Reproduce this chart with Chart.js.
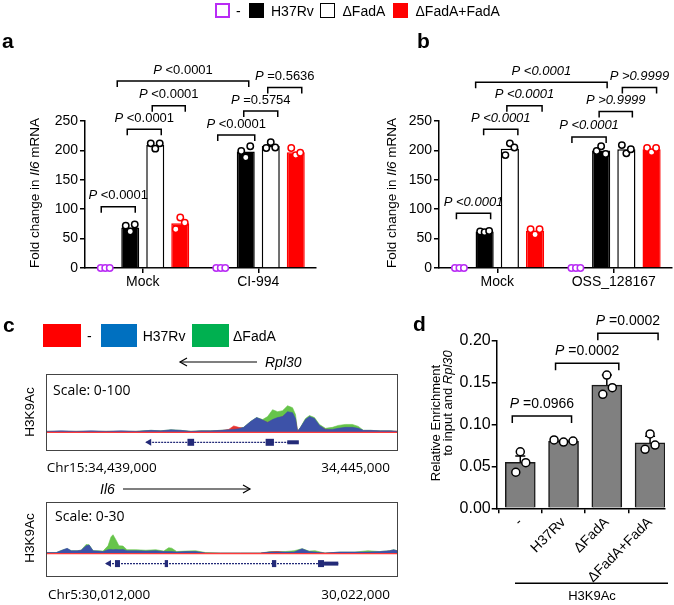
<!DOCTYPE html>
<html><head><meta charset="utf-8">
<script src="https://cdn.jsdelivr.net/npm/chart.js@4.4.1/dist/chart.umd.min.js"></script>
<style>
html,body{margin:0;padding:0;background:#fff;}
body{width:674px;height:605px;position:relative;overflow:hidden;font-family:'Liberation Sans',Arial,sans-serif;color:#000;}
.t{position:absolute;white-space:nowrap;line-height:1;}
.rot{position:absolute;white-space:nowrap;line-height:1;transform:translate(-50%,-50%) rotate(-90deg);}
.box{position:absolute;box-sizing:border-box;}
.os{font-family:'Open Sans',sans-serif;}
canvas{position:absolute;}
.trk{position:absolute;border:1px solid #444;}
</style></head><body>

<canvas id="ca" width="337" height="300" style="left:0;top:0"></canvas>
<canvas id="cb" width="337" height="300" style="left:337px;top:0"></canvas>
<canvas id="cd" width="274" height="305" style="left:400px;top:300px"></canvas>
<div class="trk" style="left:45.7px;top:374px;width:350px;height:75px;"><canvas id="t1" width="350" height="75" style="left:0;top:0"></canvas></div>
<div class="trk" style="left:45.7px;top:501.7px;width:350px;height:73px;"><canvas id="t2" width="350" height="73" style="left:0;top:0"></canvas></div>

<svg width="674" height="605" style="position:absolute;left:0;top:0">
  <path d="M180 362 H257" stroke="#000" stroke-width="1.2" fill="none"/>
  <path d="M187 358 L180 362 L187 366" stroke="#000" stroke-width="1.2" fill="none"/>
  <path d="M123 489 H250" stroke="#000" stroke-width="1.2" fill="none"/>
  <path d="M243 485 L250 489 L243 493" stroke="#000" stroke-width="1.2" fill="none"/>
  <path d="M515 583.3 H668" stroke="#000" stroke-width="1.5" fill="none"/>
</svg>

<!-- top legend -->
<div class="box" style="left:215px;top:3px;width:15px;height:15px;border:2px solid #b92cf5;background:#fff"></div>
<div class="t" style="left:236px;top:3.5px;font-size:14px">-</div>
<div class="box" style="left:249px;top:3px;width:15px;height:15px;background:#000"></div>
<div class="t" style="left:271px;top:3.5px;font-size:14px">H37Rv</div>
<div class="box" style="left:320px;top:3px;width:15px;height:15px;border:1.5px solid #000;background:#fff"></div>
<div class="t" style="left:342.5px;top:3.5px;font-size:14px">ΔFadA</div>
<div class="box" style="left:393px;top:3px;width:15px;height:15px;background:#ff0000"></div>
<div class="t" style="left:415.5px;top:3.5px;font-size:14px">ΔFadA+FadA</div>

<!-- panel letters -->
<div class="t" style="left:2px;top:30px;font-size:21px;font-weight:bold">a</div>
<div class="t" style="left:417px;top:30px;font-size:21px;font-weight:bold">b</div>
<div class="t" style="left:3px;top:314px;font-size:21px;font-weight:bold">c</div>
<div class="t" style="left:413px;top:313px;font-size:21px;font-weight:bold">d</div>

<!-- axis titles -->
<div class="rot" style="left:35px;top:193px;font-size:13.5px">Fold change in <i>Il6</i> mRNA</div>
<div class="rot" style="left:391.7px;top:193px;font-size:13.5px">Fold change in <i>Il6</i> mRNA</div>
<div class="rot" style="left:434.7px;top:422.5px;font-size:13px">Relative Enrichment</div>
<div class="rot" style="left:446.7px;top:403.3px;font-size:13px">to input and <i>Rpl30</i></div>
<div class="t" style="left:592px;top:589px;font-size:13px;transform:translateX(-50%)">H3K9Ac</div>

<!-- panel c texts -->
<div class="box" style="left:43px;top:324px;width:38px;height:23px;background:#ff0000"></div>
<div class="t" style="left:87px;top:328.5px;font-size:14px">-</div>
<div class="box" style="left:100.7px;top:324px;width:36px;height:23px;background:#0070c0"></div>
<div class="t" style="left:142.7px;top:328.5px;font-size:14px">H37Rv</div>
<div class="box" style="left:191.7px;top:324px;width:37.6px;height:23px;background:#00b050"></div>
<div class="t" style="left:233px;top:328.5px;font-size:14px">ΔFadA</div>
<div class="t" style="left:265px;top:355px;font-size:14px;font-style:italic">Rpl30</div>
<div class="t os" style="left:53px;top:383px;font-size:14px">Scale: 0-100</div>
<div class="rot" style="left:30px;top:412px;font-size:13.5px">H3K9Ac</div>
<div class="t os" style="left:46.7px;top:461px;font-size:13.5px">Chr15:34,439,000</div>
<div class="t os" style="right:284px;top:461px;font-size:13.5px">34,445,000</div>
<div class="t" style="left:100px;top:482px;font-size:14px;font-style:italic">Il6</div>
<div class="t os" style="left:55px;top:509px;font-size:14px">Scale: 0-30</div>
<div class="rot" style="left:30px;top:538px;font-size:13.5px">H3K9Ac</div>
<div class="t os" style="left:48px;top:588px;font-size:13.5px">Chr5:30,012,000</div>
<div class="t os" style="right:284px;top:588px;font-size:13.5px">30,022,000</div>

<script>
// ---------- data ----------
const strains = ['-', 'H37Rv', 'ΔFadA', 'ΔFadA+FadA'];
const yTicksAB = [0, 50, 100, 150, 200, 250];

// panel a
const groupsA = ['Mock', 'CI-994'];
const aNone = [0, 0];
const aH37Rv = [69, 198];
const aDFadA = [209, 207.5];
const aComp = [76, 197];
const aNonePts = [[0, 0, 0], [0, 0, 0]];
const aH37RvPts = [[72, 62, 74], [199, 188, 207]];
const aDFadAPts = [[212, 203, 212], [204, 214, 205]];
const aCompPts = [[66, 86, 77], [204, 192, 196]];
// [group1, series1, group2, series2, height, label, nudge1, nudge2]
const aBrackets = [
  [0, 0, 0, 1, 104, 'P <0.0001', -4, 5],
  [0, 1, 0, 2, 236, 'P <0.0001', -3, 6],
  [0, 2, 0, 3, 276, 'P <0.0001', -3, 5],
  [0, 1, 1, 1, 318, 'P <0.0001', -13, 3],
  [1, 0, 1, 1, 226, 'P <0.0001', -3, 9],
  [1, 1, 1, 2, 267, 'P =0.5754', -2, 7],
  [1, 2, 1, 3, 307, 'P =0.5636', -3, 6]
];

// panel b
const groupsB = ['Mock', 'OSS_128167'];
const bNone = [0, 0];
const bH37Rv = [62, 200];
const bDFadA = [203, 202];
const bComp = [63, 202];
const bNonePts = [[0, 0, 0], [0, 0, 0]];
const bH37RvPts = [[62, 61, 63], [199, 207, 194]];
const bDFadAPts = [[192, 212, 205], [209, 195, 202]];
const bCompPts = [[66, 57, 66], [204, 197, 204]];
const bBrackets = [
  [0, 0, 0, 1, 93, 'P <0.0001', -3, 6],
  [0, 1, 0, 2, 236, 'P <0.0001', -1, 8],
  [0, 2, 0, 3, 276, 'P <0.0001', -3, 7],
  [0, 1, 1, 1, 316, 'P <0.0001', -9, 6],
  [1, 0, 1, 1, 223, 'P <0.0001', -4, 5],
  [1, 1, 1, 2, 266, 'P >0.9999', -2, 6],
  [1, 2, 1, 3, 307, 'P >0.9999', -4, 5]
];

// panel c tracks (genomic position, signal heights)
const t1Range = [34439000, 34445000];
const t1Pos = [34439000,34439244,34439500,34439757,34440013,34440270,34440526,34440782,34440953,34441124,34441295,34441466,34441637,34441808,34441979,34442115,34442201,34442286,34442372,34442491,34442594,34442697,34442782,34442867,34442953,34443038,34443124,34443209,34443260,34443295,34443346,34443431,34443500,34443585,34443671,34443773,34443893,34443995,34444115,34444235,34444337,34444423,34444542,34444713,34444884,34445000];
const t1Blue = [1.7,2.6,1.7,2.6,1.7,2.6,1.7,3.4,2.6,4.3,3.4,1.7,2.6,2.6,3.4,4.3,5.1,6,8.6,18.9,25.7,21.4,17.2,22.3,25.7,27.4,36,34.3,24,1.7,8.6,22.3,27.4,24,12,5.1,5.1,6.9,8.6,8.6,6.9,3.4,3.4,2.6,2.6,1.7];
const t1Green = [1.7,1.7,1.7,1.7,1.7,1.7,1.7,3.4,2.6,4.3,3.4,1.7,2.6,2.6,3.4,4.3,5.1,6.9,8.6,18.9,25.7,22.3,27.4,39.4,36,37.7,46.3,42.9,30.9,1.7,8.6,24,29.2,25.7,13.7,6.9,8.6,12,13.7,13.7,10.3,3.4,3.4,2.6,2.6,1.7];
const t1Red = [0.9,0.9,0.9,0.9,0.9,0.9,0.9,1.7,1.7,2.6,1.7,0.9,1.7,1.7,2.6,5.1,11.1,8.6,6.9,15.4,22.3,20.6,17.2,20.6,24,27.4,32.6,30.9,20.6,1.7,6.9,18.9,24,20.6,10.3,5.1,3.4,5.1,6.9,6.9,5.1,2.6,2.6,1.7,1.7,1.7];
const t1Gene = [34440700, 34443317];
const t1Exons = [[34441408, 34441522], [34442748, 34442890]];
const t1Utr = [[34443119, 34443317]];

const t2Range = [30012000, 30022000];
const t2Pos = [30012000,30012264,30012464,30012577,30012691,30012862,30012975,30013118,30013203,30013317,30013459,30013601,30013743,30013829,30013886,30013971,30014056,30014170,30014284,30014540,30014824,30015108,30015336,30015478,30015564,30015706,30015962,30016246,30016531,30016957,30017526,30018095,30018379,30018578,30018806,30019062,30019289,30019488,30019659,30019943,30020370,30020797,30021166,30021507,30021792,30021906,30022000];
const t2Blue = [0.6,0.6,2.3,3.1,1.7,1.7,2.0,4.6,5.1,1.7,1.5,1.2,2.3,2.5,2.3,2.5,2.3,2.5,1.7,1.7,1.5,1.7,1.2,1.2,1.2,0.9,1.2,1.2,0.3,0.3,0.3,0.3,0.9,0.9,0.9,0.9,2.9,1.2,0.9,0.3,0.9,0.9,0.9,1.2,1.7,2.3,1.7];
const t2Green = [0.6,0.6,2.3,2.9,1.7,1.7,2.0,5.4,5.2,1.7,1.7,1.5,4.6,9.9,11.2,8.1,4.6,4.5,2.3,2.3,2.0,2.3,1.5,3.5,3.2,1.2,1.5,1.7,0.6,0.3,0.3,0.3,1.2,1.2,1.2,1.7,2.9,1.5,1.7,0.3,0.9,0.9,1.7,1.2,1.7,2.3,1.7];
const t2Red = [0.3,0.3,0.6,0.9,0.6,1.2,1.7,2.3,1.7,0.9,0.9,0.6,1.2,1.2,1.2,1.5,1.2,1.2,0.9,0.9,0.6,0.9,0.6,0.6,0.6,0.6,0.6,0.6,0.3,0.3,0.3,0.3,0.9,1.2,0.6,0.6,1.2,0.6,0.6,0.3,0.6,0.6,0.6,0.6,1.5,1.7,1.7];
const t2Gene = [30013686, 30020322];
const t2Exons = [[30013942, 30014085], [30015364, 30015458], [30018427, 30018550], [30019744, 30019915]];
const t2Utr = [[30019915, 30020322]];

// panel d
const dLabels = ['-', 'H37Rv', 'ΔFadA', 'ΔFadA+FadA'];
const dMean = [0.055, 0.080, 0.147, 0.078];
const dSD = [0.0075, 0.001, 0.012, 0.008];
const dPts = [[0.043, 0.0675, 0.0544], [0.0816, 0.079, 0.0803], [0.136, 0.159, 0.144], [0.0704, 0.0887, 0.0755]];
const dTicks = [0, 0.05, 0.10, 0.15, 0.20];
const dBrackets = [
  [0, 1, 0.110, 'P =0.0966', -8, 8],
  [1, 2, 0.173, 'P =0.0002', -8, 12],
  [2, 3, 0.209, 'P =0.0002', -9, 8]
];

// ---------- drawing ----------
const FAM = "'Liberation Sans', Arial, sans-serif";
Chart.defaults.font.family = FAM;
Chart.defaults.color = '#000';
Chart.defaults.animation = false;
Chart.defaults.plugins.legend.display = false;
Chart.defaults.plugins.tooltip.enabled = false;
const PURPLE = '#b92cf5', RED = '#ff0000';

function pText(ctx, cx, cy, label, allItalic, size) {
  const p = label.slice(0, 1), rest = label.slice(1);
  const fI = `italic ${size}px ${FAM}`, fR = `${allItalic ? 'italic ' : ''}${size}px ${FAM}`;
  ctx.save();
  ctx.textBaseline = 'middle'; ctx.textAlign = 'left'; ctx.fillStyle = '#000';
  ctx.font = fI; const w1 = ctx.measureText(p).width;
  ctx.font = fR; const w2 = ctx.measureText(rest).width;
  const x = cx - (w1 + w2) / 2;
  ctx.font = fI; ctx.fillText(p, x, cy);
  ctx.font = fR; ctx.fillText(rest, x + w1, cy);
  ctx.restore();
}
function bracket(ctx, x1, x2, y, leg) {
  ctx.save(); ctx.strokeStyle = '#000'; ctx.lineWidth = 1.5;
  ctx.beginPath(); ctx.moveTo(x1, y + leg); ctx.lineTo(x1, y); ctx.lineTo(x2, y); ctx.lineTo(x2, y + leg); ctx.stroke();
  ctx.restore();
}
function dot(ctx, x, y, r, col) {
  ctx.beginPath(); ctx.arc(x, y, r, 0, Math.PI * 2);
  ctx.fillStyle = '#fff'; ctx.fill(); ctx.lineWidth = 1.5; ctx.strokeStyle = col; ctx.stroke();
}

function axisStyle(extra) {
  return Object.assign({
    grid: { display: true, drawOnChartArea: false, tickLength: 5, color: '#000', lineWidth: 1.5 },
    border: { display: true, color: '#000', width: 1.5 }
  }, extra);
}

function grouped(id, groups, means, pts, brackets, allItalic, padL, padR) {
  const jit = [-4.5, 0, 4.5];
  const strokeCols = [PURPLE, '#000', '#000', RED];
  new Chart(document.getElementById(id), {
    type: 'bar',
    data: {
      labels: groups,
      datasets: [
        { label: strains[0], data: means[0], backgroundColor: '#fff', borderWidth: 0 },
        { label: strains[1], data: means[1], backgroundColor: '#000', borderColor: '#000', borderWidth: 1.5 },
        { label: strains[2], data: means[2], backgroundColor: '#fff', borderColor: '#000', borderWidth: 1.5 },
        { label: strains[3], data: means[3], backgroundColor: RED, borderColor: RED, borderWidth: 1.5 }
      ]
    },
    options: {
      responsive: false,
      layout: { padding: { top: 121, left: padL, right: padR, bottom: 0 } },
      datasets: { bar: { categoryPercentage: 0.866, barPercentage: 0.72 } },
      scales: {
        x: axisStyle({
          grid: { display: true, drawOnChartArea: false, offset: false, tickLength: 5, color: '#000', lineWidth: 1.5 },
          ticks: { font: { size: 14 }, padding: 1, color: '#000' },
          afterFit: s => { s.height = 32; }
        }),
        y: axisStyle({
          min: 0, max: 250,
          afterBuildTicks: s => { s.ticks = yTicksAB.map(v => ({ value: v })); },
          ticks: { font: { size: 14 }, padding: 2, color: '#000' },
          afterFit: s => { s.width = 40; }
        })
      }
    },
    plugins: [{
      id: 'ann',
      afterDraw(chart) {
        const ctx = chart.ctx, ys = chart.scales.y;
        pts.forEach((ser, i) => {
          const meta = chart.getDatasetMeta(i);
          ser.forEach((vals, j) => {
            const el = meta.data[j];
            vals.forEach((v, k) => dot(ctx, el.x + jit[k], ys.getPixelForValue(v), 3.2, strokeCols[i]));
          });
        });
        brackets.forEach(b => {
          const x1 = chart.getDatasetMeta(b[1]).data[b[0]].x + b[6];
          const x2 = chart.getDatasetMeta(b[3]).data[b[2]].x + b[7];
          const yy = ys.getPixelForValue(b[4]);
          bracket(ctx, x1, x2, yy, 6);
          pText(ctx, (x1 + x2) / 2, yy - 11, b[5], allItalic, 13);
        });
      }
    }]
  });
}

grouped('ca', groupsA, [aNone, aH37Rv, aDFadA, aComp], [aNonePts, aH37RvPts, aDFadAPts, aCompPts], aBrackets, false, 45, 21);
grouped('cb', groupsB, [bNone, bH37Rv, bDFadA, bComp], [bNonePts, bH37RvPts, bDFadAPts, bCompPts], bBrackets, true, 62, 2);

// tracks
const BLUE_T = '#3d52a8', GREEN_T = '#66c44a', RED_T = '#e8332f', NAVY = '#232a78';
function track(id, range, ymax, pos, blue, green, red, gene, exons, utrs, padBottom) {
  const mk = (arr) => pos.map((p, i) => ({ x: p, y: arr[i] }));
  const ds = (label, arr, col) => ({ label, data: mk(arr), borderColor: col, backgroundColor: col, borderWidth: 0.6, fill: 'origin', pointRadius: 0, tension: 0 });
  new Chart(document.getElementById(id), {
    type: 'line',
    data: { datasets: [ds('H37Rv', blue, BLUE_T), ds('-', red, RED_T), ds('ΔFadA', green, GREEN_T)] },
    options: {
      responsive: false,
      layout: { padding: { top: 0, left: 0, right: 0, bottom: padBottom } },
      scales: {
        x: { type: 'linear', min: range[0], max: range[1], display: false },
        y: { min: 0, max: ymax, display: false }
      }
    },
    plugins: [{
      id: 'gene',
      afterDatasetsDraw(chart) {
        const { ctx, chartArea, scales: { x, y } } = chart;
        ctx.save();
        const y0 = y.getPixelForValue(0);
        ctx.strokeStyle = '#ff3b3b'; ctx.lineWidth = 1.2;
        ctx.beginPath(); ctx.moveTo(chartArea.left, y0); ctx.lineTo(chartArea.right, y0); ctx.stroke();
        const gy = chartArea.bottom + 10;
        const gx0 = x.getPixelForValue(gene[0]), gx1 = x.getPixelForValue(gene[1]);
        ctx.strokeStyle = NAVY; ctx.lineWidth = 1.3; ctx.setLineDash([2, 1]);
        ctx.beginPath(); ctx.moveTo(gx0, gy); ctx.lineTo(gx1, gy); ctx.stroke();
        ctx.setLineDash([]);
        ctx.fillStyle = NAVY;
        ctx.beginPath(); ctx.moveTo(gx0 - 1, gy); ctx.lineTo(gx0 + 5, gy - 3.5); ctx.lineTo(gx0 + 5, gy + 3.5); ctx.closePath(); ctx.fill();
        exons.forEach(e => { const a = x.getPixelForValue(e[0]), b = x.getPixelForValue(e[1]); ctx.fillRect(a, gy - 3.5, Math.max(b - a, 3), 7); });
        utrs.forEach(e => { const a = x.getPixelForValue(e[0]), b = x.getPixelForValue(e[1]); ctx.fillRect(a, gy - 2, b - a, 4); });
        ctx.restore();
      }
    }]
  });
}
track('t1', t1Range, 100, t1Pos, t1Blue, t1Green, t1Red, t1Gene, t1Exons, t1Utr, 17.7);
track('t2', t2Range, 30, t2Pos, t2Blue, t2Green, t2Red, t2Gene, t2Exons, t2Utr, 22.4);

// panel d
const dJit = [[-4.5, 0, 5.5], [-9.5, 0, 9.5], [-4, 0, 5.5], [-5, 0, 5]];
new Chart(document.getElementById('cd'), {
  type: 'bar',
  data: { datasets: [{ label: 'H3K9Ac', data: dMean.map((m, i) => ({ x: i, y: m })), backgroundColor: '#808080', borderColor: '#1a1a1a', borderWidth: 1.5, barThickness: 30 }] },
  options: {
    responsive: false,
    layout: { padding: { top: 40.7, left: 51.7, right: 9, bottom: 0 } },
    scales: {
      x: axisStyle({
        type: 'linear', min: -0.545, max: 3.345, offset: false,
        afterBuildTicks: s => { s.ticks = dLabels.map((_, i) => ({ value: i })); },
        ticks: { callback: v => dLabels[v], minRotation: 45, maxRotation: 45, autoSkip: false, font: { size: 14 }, padding: 1, color: '#000' },
        afterFit: s => { s.height = 96.7; }
      }),
      y: axisStyle({
        min: 0, max: 0.2,
        afterBuildTicks: s => { s.ticks = dTicks.map(v => ({ value: v })); },
        ticks: { callback: v => Number(v).toFixed(2), font: { size: 16 }, padding: 1, color: '#000' },
        afterFit: s => { s.width = 45; }
      })
    }
  },
  plugins: [{
    id: 'dann',
    afterDraw(chart) {
      const ctx = chart.ctx, ys = chart.scales.y, meta = chart.getDatasetMeta(0);
      ctx.save(); ctx.strokeStyle = '#000'; ctx.lineWidth = 1.5;
      dMean.forEach((m, i) => {
        const el = meta.data[i];
        const yt = ys.getPixelForValue(m + dSD[i]), yb = ys.getPixelForValue(m);
        ctx.beginPath(); ctx.moveTo(el.x, yb); ctx.lineTo(el.x, yt); ctx.moveTo(el.x - 5, yt); ctx.lineTo(el.x + 5, yt); ctx.stroke();
      });
      ctx.restore();
      dPts.forEach((vals, i) => {
        const el = meta.data[i];
        vals.forEach((v, k) => dot(ctx, el.x + dJit[i][k], ys.getPixelForValue(v), 4, '#000'));
      });
      dBrackets.forEach(b => {
        const x1 = meta.data[b[0]].x + b[4], x2 = meta.data[b[1]].x + b[5];
        const yy = ys.getPixelForValue(b[2]);
        bracket(ctx, x1, x2, yy, 7);
        pText(ctx, (x1 + x2) / 2, yy - 12, b[3], false, 14);
      });
    }
  }]
});
</script>
</body></html>
